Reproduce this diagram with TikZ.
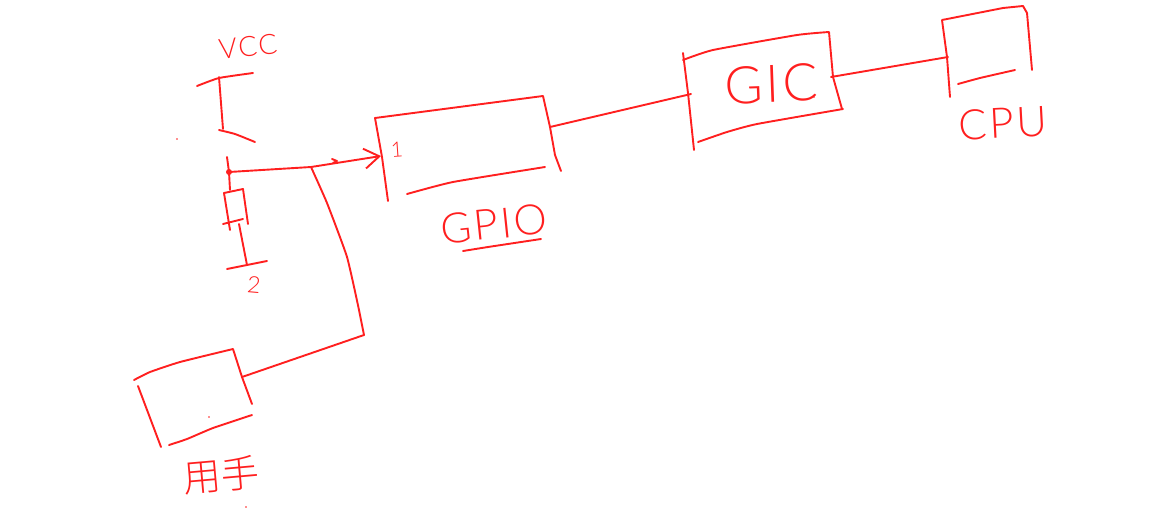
\documentclass[tikz,border=0pt]{standalone}
\usepackage{xcolor}
\usepackage{fontspec}
\usetikzlibrary{arrows.meta,positioning}
\setmainfont[LetterSpace=6]{Lato Light}
\newfontfamily\cjkfont{Noto Sans CJK SC Light}
\definecolor{SketchRed}{HTML}{FF1F1F}
\newcommand{\handsize}[1]{\fontsize{#1}{#1}\selectfont}
\tikzset{%
  stroke/.style={draw=SketchRed,line width=1.9pt,line cap=round,line join=round},
  wire/.style={stroke},
  flow/.style={stroke,-{Straight Barb[length=15pt,width=20pt,line width=1.9pt]}},
  tag/.style={text=SketchRed,inner sep=0pt,outer sep=0pt}
}

\begin{document}
\begin{tikzpicture}[x=1pt,y=-1pt]
  \useasboundingbox (0,0) rectangle (1161,520);

  \node[tag, rotate=6, font=\handsize{28}] (vcc) at (248,47) {VCC};
  \node[tag, rotate=4, font=\handsize{21}] (one) at (397,150) {1};
  \node[tag, rotate=-5, font=\handsize{23}] (two) at (254,285) {2};
  \node[tag, rotate=6, font=\handsize{42}] (gpio) at (494,224) {GPIO};
  \node[tag, rotate=2, font=\handsize{52}] (gic) at (771,84) {GIC};
  \node[tag, rotate=3, font=\handsize{42}] (cpu) at (1003,123) {CPU};
  \node[tag, rotate=5, font=\cjkfont\handsize{38}] (user) at (221,475) {用手};

  \coordinate (junction) at (229,172);
  \coordinate (tee) at (311,167);
  \coordinate (bend) at (364,335);
  \coordinate (userOut) at (242,377);
  \coordinate (gpioIn) at (381,156);
  \coordinate (gpioOut) at (550,127);
  \coordinate (gicIn) at (691,94);
  \coordinate (gicOut) at (831,77);
  \coordinate (cpuIn) at (948,57);

  % switch and resistor
  \draw[stroke] plot[smooth,tension=.3] coordinates {(197,86) (219,78) (253,73)};
  \draw[stroke] (219,77) -- (223,129);
  \draw[stroke] plot[smooth,tension=.3] coordinates {(219,130) (235,134) (255,142)};
  \draw[stroke] (227,157) -- (junction) -- (230,190);
  \fill[SketchRed] (junction) circle (3pt);
  \draw[stroke] (224,193) -- (243,189) -- (248,224);
  \draw[stroke] (224,193) -- (230,230);
  \draw[stroke] (223,224) -- (243,219);
  \draw[stroke] (239,224) -- (247,265);
  \draw[stroke] (227,269) -- (267,261);

  % boxes
  \draw[stroke] plot[smooth,tension=.3] coordinates {(134,380) (150,372) (180,362) (233,349)}
    -- (242,377) -- (252,404);
  \draw[stroke] (138,386) -- (161,447);
  \draw[stroke] plot[smooth,tension=.3] coordinates {(169,445) (187,439) (213,428) (252,415)};

  \draw[stroke] (388,201) -- (382,157) -- (375,118) -- (543,96) -- (550,127)
    -- (555,155) -- (561,171);
  \draw[stroke] plot[smooth,tension=.3] coordinates {(407,194) (453,182) (545,167)};
  \draw[stroke] plot[smooth,tension=.3] coordinates {(463,251) (488,247) (541,239)};

  \draw[stroke] (694,150) -- (688,93) -- (683,53);
  \draw[stroke] plot[smooth,tension=.3] coordinates {(683,60) (713,50) (797,35) (829,32)}
    -- (833,77) -- (842,109);
  \draw[stroke] plot[smooth,tension=.3] coordinates {(698,142) (727,132) (757,124) (843,109)};

  \draw[stroke] (950,97) -- (947,57) -- (942,20) -- (1003,8) -- (1023,6)
    -- (1027,13) -- (1032,70);
  \draw[stroke] plot[smooth,tension=.3] coordinates {(958,84) (980,78) (1015,70)};

  % connectors
  \draw[flow] (junction) -- (tee) -- (gpioIn);
  \draw[stroke] (332,159) -- (337,161) -- (333,163);
  \draw[wire] plot[smooth,tension=.3] coordinates {(tee) (327,203) (347,257) (359,310)} -- (bend);
  \draw[wire] (bend) -- (userOut);
  \draw[wire] (gpioOut) -- (gicIn);
  \draw[wire] (gicOut) -- (cpuIn);

  \foreach \speck in {(177,139),(209,417),(246,507),(814,97)}
    \fill[SketchRed] \speck circle (0.8pt);
\end{tikzpicture}
\end{document}
